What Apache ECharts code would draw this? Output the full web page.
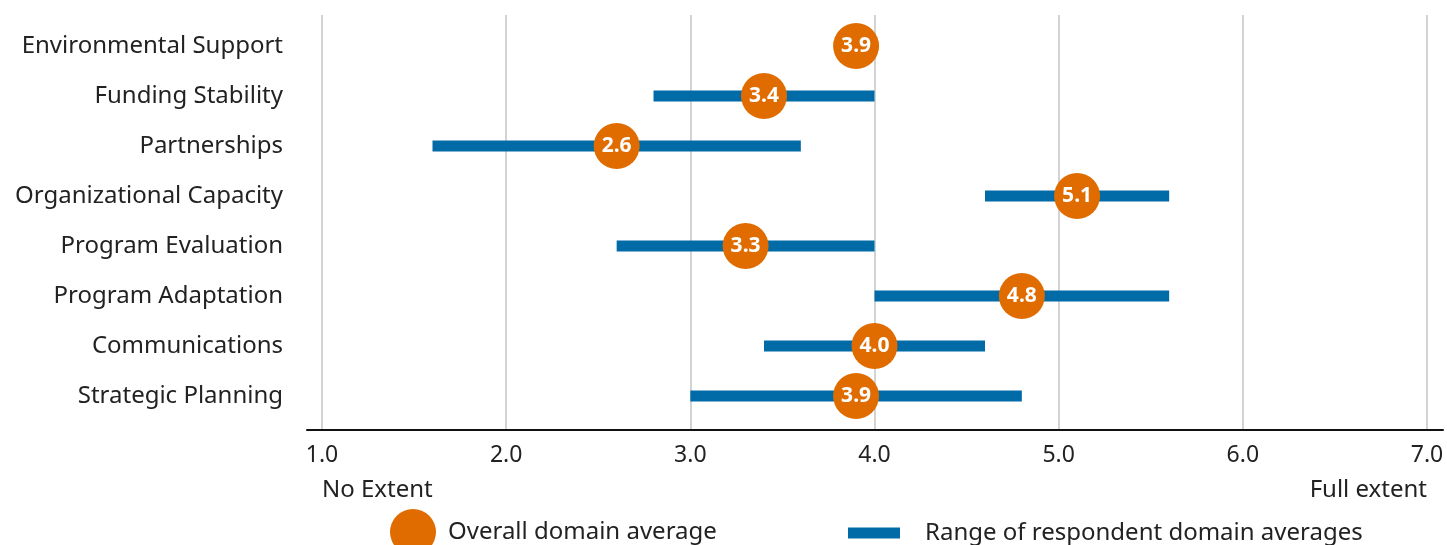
<!DOCTYPE html>
<html lang="en">
<head>
<meta charset="UTF-8">
<title>Domain averages</title>
<style>
  html, body { margin: 0; padding: 0; background: #fff; }
  #chart { width: 1447px; height: 545px; }
</style>
<script src="https://cdn.jsdelivr.net/npm/echarts@6/dist/echarts.min.js"></script>
</head>
<body>
<div id="chart"></div>
<script>
  // data
  const domains = ['Environmental Support', 'Funding Stability', 'Partnerships', 'Organizational Capacity',
                   'Program Evaluation', 'Program Adaptation', 'Communications', 'Strategic Planning'];
  const averages = [3.9, 3.4, 2.6, 5.1, 3.3, 4.8, 4.0, 3.9];
  const rangeLow = [null, 2.8, 1.6, 4.6, 2.6, 4.0, 3.4, 3.0];
  const rangeHigh = [null, 4.0, 3.6, 5.6, 4.0, 5.6, 4.6, 4.8];
  const scaleEnds = { 1: 'No Extent', 7: 'Full extent' };

  const FONT = 'Noto Sans';
  const ORANGE = '#E06C00';
  const BLUE = '#006BA6';

  const chart = echarts.init(document.getElementById('chart'));

  const rangeData = domains.map((d, i) => [rangeLow[i], rangeHigh[i], i]);
  const avgData = domains.map((d, i) => [averages[i], i]);

  chart.setOption({
    animation: false,
    textStyle: { fontFamily: FONT },
    grid: [
      { left: 322, right: 20, top: 15, bottom: 115 },   // grid lines + tick labels
      { left: 322, right: 20, top: 21, height: 400 },   // rows
      { left: 307, right: 4, top: 15, bottom: 115 }     // long axis line
    ],
    xAxis: [
      {
        gridIndex: 0, type: 'value', min: 1, max: 7, interval: 1,
        axisLine: { show: false }, axisTick: { show: false },
        splitLine: { show: true, lineStyle: { color: '#d3d3d3', width: 2 } },
        axisLabel: { fontSize: 23, color: '#222', margin: 14, fontFamily: FONT,
                     formatter: v => v.toFixed(1) }
      },
      {
        gridIndex: 0, type: 'value', min: 1, max: 7, interval: 6, position: 'bottom', offset: 36,
        axisLine: { show: false }, axisTick: { show: false }, splitLine: { show: false },
        axisLabel: { fontSize: 24, color: '#222', margin: 12, fontFamily: FONT,
                     alignMinLabel: 'left', alignMaxLabel: 'right',
                     formatter: v => scaleEnds[v] || '' }
      },
      { gridIndex: 1, type: 'value', min: 1, max: 7, show: false },
      {
        gridIndex: 2, type: 'value', min: 0, max: 1,
        axisLine: { show: true, lineStyle: { color: '#111', width: 2 } },
        axisTick: { show: false }, axisLabel: { show: false }, splitLine: { show: false }
      }
    ],
    yAxis: [
      { gridIndex: 0, type: 'value', show: false },
      {
        gridIndex: 1, type: 'category', inverse: true, data: domains,
        axisLine: { show: false }, axisTick: { show: false },
        axisLabel: { fontSize: 24, color: '#222', margin: 39, fontFamily: FONT, padding: [7, 0, 0, 0] }
      },
      { gridIndex: 2, type: 'value', show: false }
    ],
    legend: [
      {
        data: [{ name: 'Overall domain average', icon: 'circle' }],
        left: 390, top: 509, padding: 0, itemWidth: 46, itemHeight: 46, selectedMode: false,
        textStyle: { fontSize: 24, color: '#222', fontFamily: FONT, padding: [0, 0, 0, 7] }
      },
      {
        data: [{ name: 'Range of respondent domain averages', icon: 'rect' }],
        left: 848, top: 521, padding: 0, itemWidth: 52, itemHeight: 11, selectedMode: false,
        textStyle: { fontSize: 24, color: '#222', fontFamily: FONT, padding: [0, 0, 0, 20] }
      }
    ],
    series: [
      {
        name: 'Range of respondent domain averages',
        type: 'custom',
        xAxisIndex: 2, yAxisIndex: 1,
        itemStyle: { color: BLUE },
        encode: { x: [0, 1], y: 2 },
        z: 2,
        renderItem: (params, api) => {
          const lo = api.value(0), hi = api.value(1);
          if (isNaN(lo) || isNaN(hi)) return null;
          const a = api.coord([lo, api.value(2)]);
          const b = api.coord([hi, api.value(2)]);
          const h = 11;
          return {
            type: 'rect',
            shape: { x: a[0], y: a[1] - h / 2, width: b[0] - a[0], height: h },
            style: { fill: BLUE }
          };
        },
        data: rangeData
      },
      {
        name: 'Overall domain average',
        type: 'scatter',
        xAxisIndex: 2, yAxisIndex: 1,
        symbol: 'circle', symbolSize: 46,
        itemStyle: { color: ORANGE, opacity: 1 },
        z: 3,
        label: {
          show: true, position: 'inside', color: '#fff', fontWeight: 'bold', fontSize: 21,
          fontFamily: FONT, formatter: p => p.value[0].toFixed(1)
        },
        data: avgData
      }
    ]
  });
</script>
</body>
</html>
